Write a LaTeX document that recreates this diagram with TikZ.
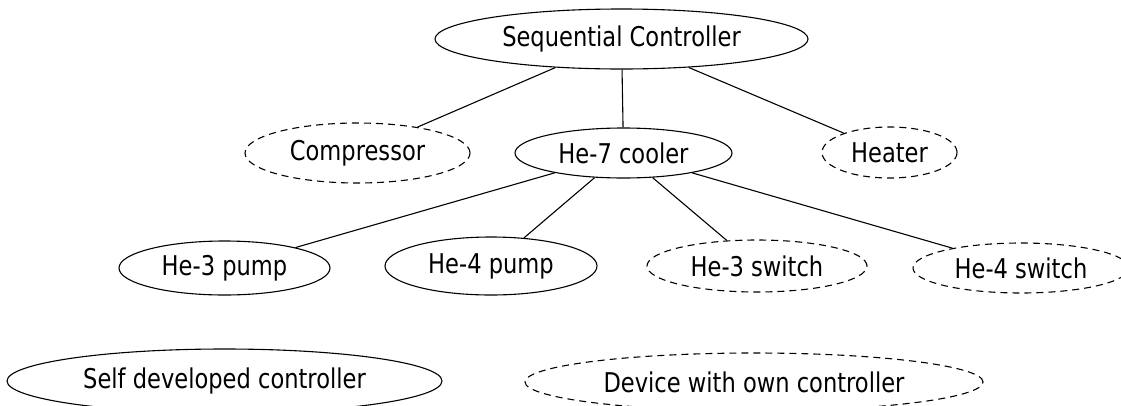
\documentclass[tikz,border=0pt]{standalone}
\usepackage{fontspec}
\setmainfont{DejaVu Sans}[FakeStretch=0.83]
\usetikzlibrary{shapes.geometric}
\begin{document}
\begin{tikzpicture}[x=1pt,y=-1pt,
  base/.style={ellipse,draw=black,line width=1.1pt,inner sep=0pt,
    font=\fontsize{27.2}{32}\selectfont},
  solidnode/.style={base},
  dashnode/.style={base,dash pattern=on 7pt off 5pt},
  link/.style={draw=black,line width=1.1pt}]
\useasboundingbox (0,0) rectangle (1121,405);
\clip (0,0) rectangle (1121,405);
\node[solidnode,minimum width=373pt,minimum height=60pt] (seq) at (621.5,39) {Sequential Controller};
\node[dashnode,minimum width=225pt,minimum height=60pt] (comp) at (357.5,153) {Compressor};
\node[solidnode,minimum width=217pt,minimum height=50pt] (he7) at (623.5,153) {He-7 cooler};
\node[dashnode,minimum width=135pt,minimum height=51pt] (heat) at (889.5,152.5) {Heater};
\node[solidnode,minimum width=211pt,minimum height=54pt] (p3) at (224.5,268) {He-3 pump};
\node[solidnode,minimum width=212pt,minimum height=58pt] (p4) at (491,266) {He-4 pump};
\node[dashnode,minimum width=220pt,minimum height=52pt] (s3) at (757,266) {He-3 switch};
\node[dashnode,minimum width=216pt,minimum height=50pt] (s4) at (1021,268) {He-4 switch};
\node[solidnode,minimum width=435pt,minimum height=64pt] (self) at (224.5,381) {Self developed controller};
\node[dashnode,minimum width=458pt,minimum height=58pt] (dev) at (754,382) {Device with own controller};
\draw[link] (seq) -- (comp);
\draw[link] (seq) -- (he7);
\draw[link] (seq) -- (heat);
\draw[link] (he7) -- (p3);
\draw[link] (he7) -- (p4);
\draw[link] (he7) -- (s3);
\draw[link] (he7) -- (s4);
\end{tikzpicture}
\end{document}
